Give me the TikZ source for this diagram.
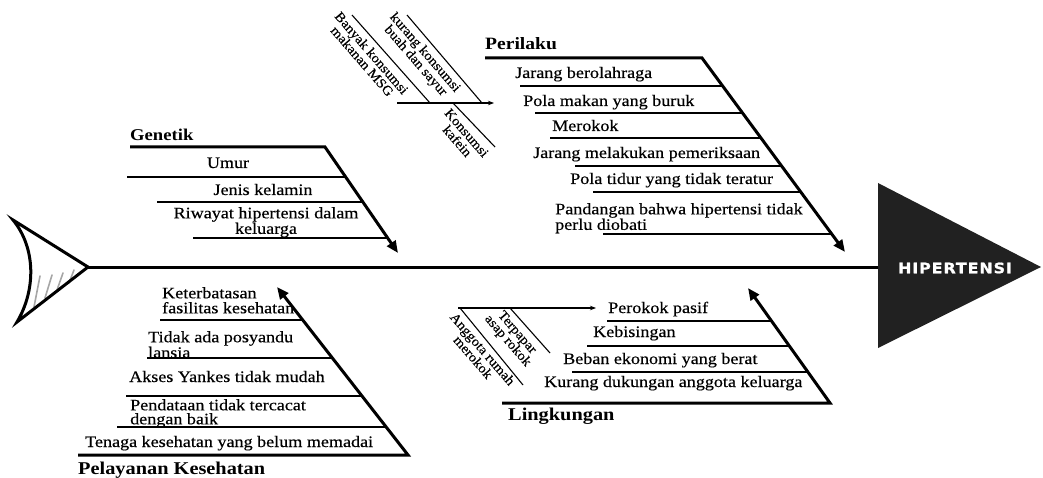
\documentclass[tikz,border=0pt]{standalone}
\usepackage{fontspec}
\usetikzlibrary{arrows.meta,calc}
\setmainfont{Liberation Serif}[FakeStretch=1.13]
\newfontfamily\ribfont{Liberation Serif}[FakeStretch=1.13,FakeBold=0.4]
\newfontfamily\ttlfont{Liberation Serif}[FakeStretch=1.13]
\newfontfamily\rotfont{Liberation Serif}[FakeStretch=1.08,FakeBold=0.3]
\newfontfamily\headfont{DejaVu Sans}[FakeStretch=1.1,LetterSpace=6,FakeBold=1.2]
\begin{document}
\begin{tikzpicture}[x=1pt,y=-1pt,
  spine/.style={line width=3pt},
  bone/.style={line width=3pt, line join=miter, -{Triangle[length=12pt,width=10pt]}},
  rib/.style={line width=1.8pt},
  twig/.style={line width=1.1pt},
  twigarrow/.style={line width=1.1pt,-{Stealth[length=6pt,width=4.5pt]}},
  hatch/.style={line width=1.6pt, draw=black!35, line cap=round},
  lbl/.style={inner sep=0pt, font=\ribfont\fontsize{16}{14}\selectfont},
  ttl/.style={inner sep=0pt, font=\ttlfont\bfseries\fontsize{17.3}{18}\selectfont},
  rot/.style={inner sep=0pt, align=center, rotate=-49, font=\rotfont\fontsize{13.5}{12.5}\selectfont},
]
\useasboundingbox (0,0) rectangle (1043,478);

% ---------- tail ----------
\coordinate (tailA) at (13,220);
\coordinate (tailB) at (88,267);
\coordinate (tailC) at (17,322);
\draw[hatch] (34,307) -- (40,276);
\draw[hatch] (45,298) -- (52,275);
\draw[hatch] (57,290) -- (63,273);
\draw[hatch] (69,283) -- (74,270);
\draw[line width=3pt, line join=miter] (tailB) -- (tailA) .. controls (36,248) and (36,290) .. (tailC) -- cycle;

% ---------- head ----------
\coordinate (headbase) at (878,267);
\fill[black!87] (878,183) -- (1041,267) -- (878,348) -- cycle;
\node[font=\headfont\bfseries\fontsize{14.5}{15}\selectfont, text=white, inner sep=0pt] (hip) at (955,268) {HIPERTENSI};

% ---------- spine ----------
\draw[spine] (tailB) -- (headbase);

% ---------- Perilaku ----------
\coordinate (P0) at (702,58);
\coordinate (P1) at (845,252);
\draw[bone] (485,58) -- (P0) -- (P1);
\draw[rib] (520,86) -- (722.6,86);
\draw[rib] (535,113) -- (742.5,113);
\draw[rib] (550,138) -- (761,138);
\draw[rib] (575,166) -- (781.6,166);
\draw[rib] (593,192) -- (800.8,192);
\draw[rib] (603,234) -- (831.7,234);
\node[ttl, anchor=base west] (perilaku) at (485,50) {Perilaku};
\node[lbl, anchor=base west] (p1) at (515,78) {Jarang berolahraga};
\node[lbl, anchor=base west] (p2) at (523,106) {Pola makan yang buruk};
\node[lbl, anchor=base west] (p3) at (552,131) {Merokok};
\node[lbl, anchor=base west] (p4) at (533,158) {Jarang melakukan pemeriksaan};
\node[lbl, anchor=base west] (p5) at (570,184) {Pola tidur yang tidak teratur};
\node[lbl, anchor=north west, align=left] (p6) at (555,203) {Pandangan bahwa hipertensi tidak\\perlu diobati};

% top sub-branch
\draw[twigarrow] (397,103) -- (494,103);
\draw[twig] (352,15) -- (430,103);
\draw[twig] (407,15) -- (482,103);
\draw[twig] (453,103) -- (495,147);
\node[rot] (msg) at (367,57) {Banyak konsumsi\\makanan MSG};
\node[rot] (buah) at (420,57) {kurang konsumsi\\buah dan sayur};
\node[rot] (kafein) at (462,137) {Konsumsi\\kafein};

% ---------- Genetik ----------
\coordinate (G0) at (325,147);
\coordinate (G1) at (398,253);
\draw[bone] (130,147) -- (G0) -- (G1);
\draw[rib] (127,177) -- (345.7,177);
\draw[rib] (157,202) -- (362.9,202);
\draw[rib] (193,238) -- (387.7,238);
\node[ttl, anchor=base west, font=\ttlfont\bfseries\fontsize{16.5}{18}\selectfont] (genetik) at (130,141) {Genetik};
\node[lbl, anchor=base] (g1) at (228,168) {Umur};
\node[lbl, anchor=base] (g2) at (263,195) {Jenis kelamin};
\node[lbl, anchor=north, align=center, font=\ribfont\fontsize{16}{12}\selectfont] (g3) at (266,207) {Riwayat hipertensi dalam\\keluarga};

% ---------- Pelayanan Kesehatan ----------
\coordinate (K0) at (408,455);
\coordinate (K1) at (277,287);
\draw[bone] (78,455) -- (K0) -- (K1);
\draw[rib] (160,320) -- (302.7,320);
\draw[rib] (147,358) -- (332.4,358);
\draw[rib] (126,396) -- (362,396);
\draw[rib] (117,427) -- (386.2,427);
\node[lbl, anchor=north west, align=left, font=\ribfont\fontsize{16}{15}\selectfont] (k1) at (162,287) {Keterbatasan\\fasilitas kesehatan};
\node[lbl, anchor=north west, align=left, font=\ribfont\fontsize{16}{11.5}\selectfont] (k2) at (148,331) {Tidak ada posyandu\\lansia};
\node[lbl, anchor=base west] (k3) at (129,382) {Akses Yankes tidak mudah};
\node[lbl, anchor=north west, align=left] (k4) at (130,399) {Pendataan tidak tercacat\\dengan baik};
\node[lbl, anchor=base west] (k5) at (85,447) {Tenaga kesehatan yang belum memadai};
\node[ttl, anchor=base west, font=\ttlfont\bfseries\fontsize{18}{18}\selectfont] (pelayanan) at (78,474) {Pelayanan Kesehatan};

% ---------- Lingkungan ----------
\coordinate (L0) at (830,403);
\coordinate (L1) at (748,288);
\draw[bone] (502,403) -- (L0) -- (L1);
\draw[rib] (607,321) -- (771.5,321);
\draw[rib] (587,346) -- (789.4,346);
\draw[rib] (572,372) -- (807.9,372);
\node[lbl, anchor=base west] (l1) at (608,313) {Perokok pasif};
\node[lbl, anchor=base west] (l2) at (593,337) {Kebisingan};
\node[lbl, anchor=base west] (l3) at (563,364) {Beban ekonomi yang berat};
\node[lbl, anchor=base west] (l4) at (544,387) {Kurang dukungan anggota keluarga};
\node[ttl, anchor=base west, font=\ttlfont\bfseries\fontsize{18}{18}\selectfont] (lingkungan) at (508,420) {Lingkungan};

% Lingkungan sub-branch
\draw[twigarrow] (458,308) -- (596,308);
\draw[twig] (460,308) -- (523,385);
\draw[twig] (510,308) -- (550,353);
\node[rot] (terpapar) at (512,337) {Terpapar\\asap rokok};
\node[rot] (anggota) at (478,353) {Anggota rumah\\merokok};
\end{tikzpicture}
\end{document}
